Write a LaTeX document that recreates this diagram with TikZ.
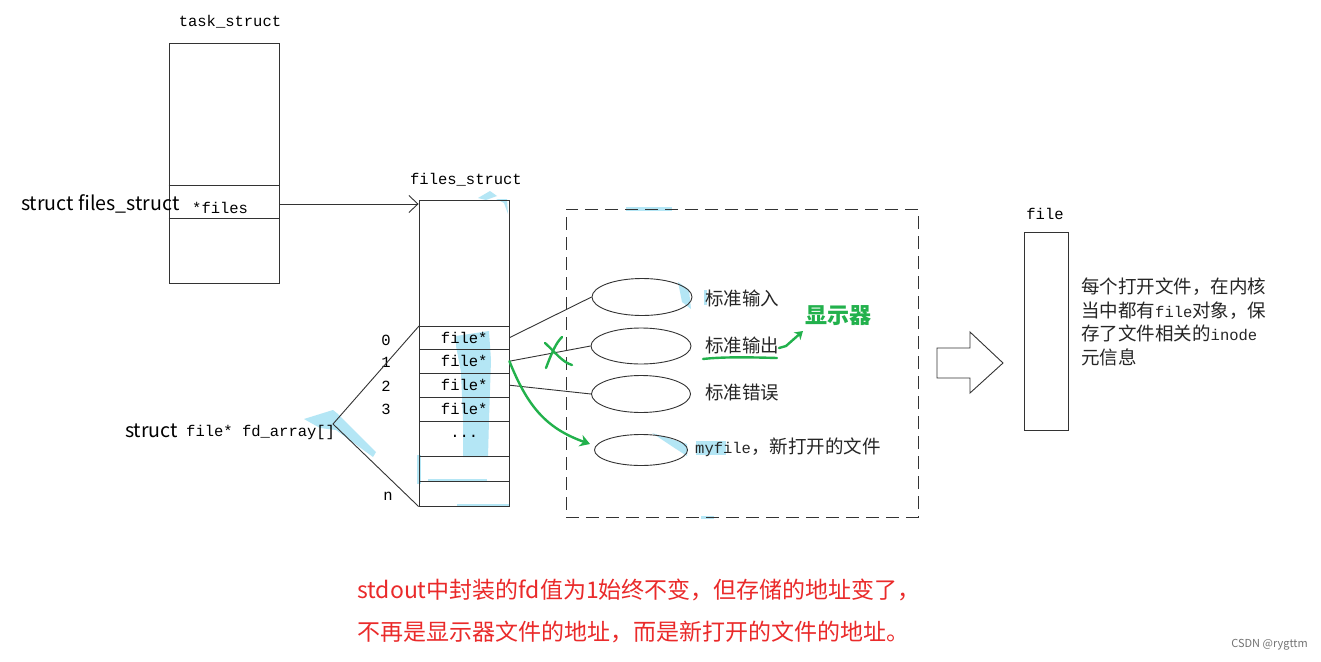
\documentclass[tikz,border=0pt]{standalone}
\usepackage{fontspec}
\newfontfamily\cjk{Noto Sans CJK SC}
\newfontfamily\mono{Liberation Mono}
\usetikzlibrary{arrows.meta,shapes.geometric}
\definecolor{pgreen}{HTML}{22B14C}
\definecolor{hl}{HTML}{B4E6F5}
\definecolor{pred}{HTML}{EA2A2A}
\definecolor{ln}{HTML}{333333}
\tikzset{
  box/.style={draw=ln, line width=0.9pt, inner sep=0pt},
  row/.style={inner sep=0pt, minimum width=90pt, anchor=north west},
  lbl/.style={inner sep=0pt, font=\mono\fontsize{15.5}{15.5}\selectfont, text=black},
  cn/.style={inner sep=0pt, font=\cjk\fontsize{18.5}{18.5}\selectfont, text=black!85},
  oval/.style={ellipse, draw=ln, line width=0.9pt, inner sep=0pt},
  conn/.style={draw=ln, line width=0.9pt},
  gpen/.style={draw=pgreen, line width=2.4pt, line cap=round, line join=round},
  hil/.style={fill=hl, draw=none}
}
\begin{document}
\begin{tikzpicture}[x=1pt,y=-1pt]
\useasboundingbox[fill=white] (0,0) rectangle (1321,661);

% light blue highlight marks
\fill[hl] (456,336) -- (489,331) -- (491,360) -- (489,420) -- (488,457) -- (463,457) -- (463,420) -- (461,372) -- (456,346) -- cycle;
\fill[hl] (478,198) -- (490,191) -- (497,196) -- (486,200) -- cycle;
\fill[hl] (496,199) -- (507,199) -- (508,214) -- (504,203) -- cycle;
\fill[hl] (304,419) -- (333,410) -- (338,414) -- (376,452) -- (373,457) -- (336,430) -- (320,428) -- cycle;
\fill[hl] (417,455) -- (421,455) -- (421,484) -- (417,484) -- cycle;
\fill[hl] (428,479) -- (487,479) -- (487,482) -- (428,482) -- cycle;
\fill[hl] (457,504) -- (510,504) -- (510,507) -- (457,507) -- cycle;
\fill[hl] (678,282) -- (689,290) -- (691,309) -- (682,302) -- cycle;
\fill[hl] (704,290) -- (707,290) -- (707,305) -- (704,305) -- cycle;
\fill[hl] (652,433) -- (687,444) -- (687,456) -- (673,447) -- cycle;
\fill[hl] (696,441) -- (726,441) -- (726,455) -- (696,455) -- cycle;
\fill[hl] (626,207) -- (672,207) -- (672,211) -- (626,211) -- cycle;
\fill[hl] (701,516) -- (714,516) -- (714,519) -- (701,519) -- cycle;

% task_struct
\node[lbl] (tlabel) at (230,22) {task\_struct};
\node[box, minimum width=110pt, minimum height=240pt] (task) at (224,163) {};
\draw[conn] (task.west |- 0,185) -- (task.east |- 0,185);
\draw[conn] (task.west |- 0,218) -- (task.east |- 0,218);
\node[lbl, anchor=west] (files) at (192,208) {*files};
\node[inner sep=0pt, anchor=west, font=\cjk\fontsize{19.6}{19.6}\selectfont] (sfs) at (21,204) {struct files\_struct};
\coordinate (pstart) at (task.east |- 0,204);

% files_struct
\node[lbl] (flabel) at (466,180) {files\_struct};
\node[box, minimum width=90pt, minimum height=306pt] (fs) at (464,353) {};
\node[row, minimum height=23pt] (r0) at (419,326) {};
\node[row, minimum height=24pt] (r1) at (419,349) {};
\node[row, minimum height=24pt] (r2) at (419,373) {};
\node[row, minimum height=24pt] (r3) at (419,397) {};
\node[row, minimum height=35pt] (r4) at (419,421) {};
\node[row, minimum height=25pt] (r5) at (419,456) {};
\node[row, minimum height=25pt] (r6) at (419,481) {};
\foreach \r in {r0,r1,r2,r3,r4,r5,r6}{\draw[conn] (\r.north west) -- (\r.north east);}
\node[lbl] at (r0.center) {file*};
\node[lbl] at (r1.center) {file*};
\node[lbl] at (r2.center) {file*};
\node[lbl] at (r3.center) {file*};
\node[lbl] at ([yshift=2pt]r4.center) {...};
\draw[conn, -{Straight Barb[length=9pt,width=17pt]}] (pstart) -- (pstart -| fs.west);

% indices
\node[lbl] (i0) at (386,340) {0};
\node[lbl] (i1) at (386,362) {1};
\node[lbl] (i2) at (386,386) {2};
\node[lbl] (i3) at (386,409) {3};
\node[lbl] (in) at (388,496) {n};

% fd_array bracket
\coordinate (v) at (333,424);
\draw[conn] (r0.north west) -- (v) -- (fs.south west);
\node[inner sep=0pt, anchor=west, font=\cjk\fontsize{19.6}{19.6}\selectfont] (fda1) at (125,431) {struct};
\node[lbl, anchor=west] (fda2) at (186,432) {file* fd\_array[]};

% dashed region
\node[draw=ln, line width=0.9pt, dash pattern=on 13pt off 7pt, minimum width=352pt, minimum height=308pt, inner sep=0pt] (db) at (742,363) {};

% ellipses
\node[oval, minimum width=100pt, minimum height=37pt] (e1) at (642,297) {};
\node[oval, minimum width=100pt, minimum height=36pt] (e2) at (641,346) {};
\node[oval, minimum width=99pt, minimum height=37pt] (e3) at (641,394) {};
\node[oval, minimum width=93pt, minimum height=31pt] (e4) at (641,450) {};
\node[cn, anchor=west] (t1) at (705,298) {标准输入};
\node[cn, anchor=west] (t2) at (705,345) {标准输出};
\node[cn, anchor=west] (t3) at (705,392) {标准错误};
\node[inner sep=0pt, anchor=west, text=black!85] (t4) at (695,447) {{\mono\fontsize{15.5}{15.5}\selectfont myfile}{\cjk\fontsize{18.5}{18.5}\selectfont ，新打开的文件}};

\draw[conn] (r0.east) -- (e1.west);
\draw[conn] (r1.east) -- (e2.west);
\draw[conn] (r2.east) -- (e3.west);

% green annotations
\coordinate (g1) at (590,444);
\draw[gpen, -{Stealth[length=10pt,width=12pt]}] (r1.east) .. controls (527,405) and (545,428) .. (g1);
\draw[gpen] (546,368) .. controls (552,352) and (556,343) .. (562,337);
\draw[gpen] (545,343) .. controls (555,352) and (562,362) .. (572,365);
\draw[gpen] (703,359) .. controls (720,357) and (745,357) .. (777,358);
\node[inner sep=0pt, anchor=west, text=pgreen, font=\cjk\bfseries\fontsize{22}{22}\selectfont] (disp) at (805,316) {显示器};
\coordinate (ga) at (779,348);
\draw[gpen, -{Stealth[length=8pt,width=10pt]}] (ga) -- (786,346) -- (803,331);

% file object
\node[lbl] (filelabel) at (1045,214) {file};
\node[box, minimum width=44pt, minimum height=198pt] (fb) at (1046,331) {};
\draw[conn, line join=miter] (937,348) -- (970,348) -- (970,332) -- (1003,363) -- (970,393) -- (970,378) -- (937,378) -- cycle;
\node[cn, anchor=north west, align=left, font=\cjk\fontsize{18.5}{23.5}\selectfont] (desc) at (1081,278) {每个打开文件，在内核\\当中都有{\mono\fontsize{15.5}{15.5}\selectfont file}对象，保\\存了文件相关的{\mono\fontsize{15.5}{15.5}\selectfont inode}\\元信息};

% red note
\node[inner sep=0pt, anchor=west, text=pred, font=\cjk\fontsize{23}{23}\selectfont] (note1) at (357,590) {stdout中封装的fd值为1始终不变，但存储的地址变了，};
\node[inner sep=0pt, anchor=west, text=pred, font=\cjk\fontsize{23}{23}\selectfont] (note2) at (357,632) {不再是显示器文件的地址，而是新打开的文件的地址。};

\node[inner sep=0pt, anchor=east, text=black!55, font=\cjk\fontsize{11}{11}\selectfont] (wm) at (1308,645) {CSDN @rygttm};
\end{tikzpicture}
\end{document}
